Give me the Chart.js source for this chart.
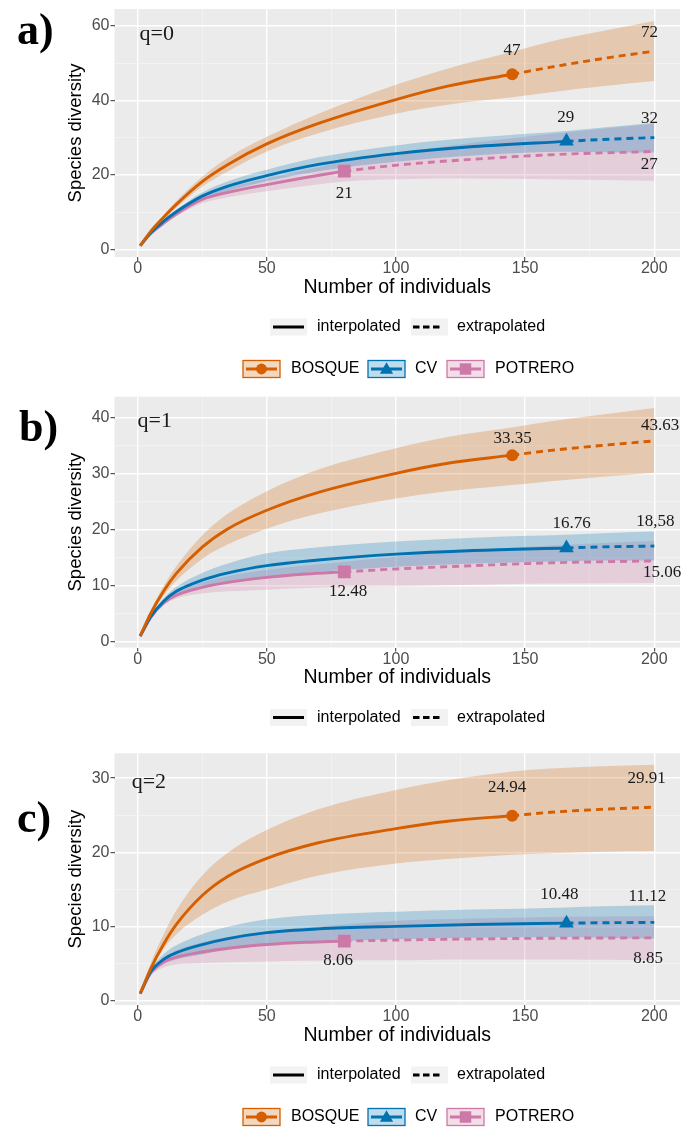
<!DOCTYPE html>
<html>
<head>
<meta charset="utf-8">
<script src="https://cdn.jsdelivr.net/npm/chart.js@4.4.1/dist/chart.umd.min.js"></script>
<style>
  html, body { margin: 0; padding: 0; background: #fff; overflow: hidden; }
  html { width: 683px; height: 1128px; }
  .panel { position: absolute; left: 0; width: 683px; overflow: hidden; }
  .panel canvas { display: block; }
</style>
</head>
<body>
<div class="panel" style="top:0px;height:385px"><canvas id="panelA" width="689" height="385"></canvas></div>
<div class="panel" style="top:385px;height:355px"><canvas id="panelB" width="689" height="355"></canvas></div>
<div class="panel" style="top:740px;height:388px"><canvas id="panelC" width="689" height="388"></canvas></div>
<script>
// sites and sample sizes
const sites = ['BOSQUE', 'CV', 'POTRERO'];
const observedN = [145, 166, 80];

// x grids (interpolated part ends at the observed sample size, then extrapolated to 200)
const bosqueX = [1, 5, 10, 15, 25, 35, 50, 70, 100, 120, 145, 160, 180, 200];
const cvX = [1, 5, 10, 15, 25, 35, 50, 70, 100, 130, 166, 180, 200];
const potreroX = [1, 5, 10, 15, 25, 35, 50, 65, 80, 100, 130, 160, 200];

const xTicks = [0, 25, 50, 75, 100, 125, 150, 175, 200];

// q = 0
const q0BosqueEst = [1, 4.8, 8.6, 12.1, 18.2, 22.8, 28.3, 33.8, 40.2, 43.8, 47, 48.9, 51.2, 53.2];
const q0BosqueLow = [1, 4.5, 8.0, 11.2, 16.9, 21.0, 26.3, 31.2, 36.4, 38.8, 40.8, 42.2, 43.8, 45.2];
const q0BosqueUp  = [1, 5.1, 9.2, 13.0, 19.5, 24.6, 30.2, 36.4, 44.2, 48.5, 53, 55.8, 58.6, 61.3];
const q0CvEst = [1, 4.4, 7.5, 10.1, 14.3, 17.0, 19.8, 22.8, 25.7, 27.6, 29, 29.5, 30.0];
const q0CvLow = [1, 4.2, 7.1, 9.5, 13.3, 15.7, 18.3, 21.0, 23.5, 25.2, 26.2, 26.1, 26.0];
const q0CvUp  = [1, 4.6, 7.9, 10.7, 15.3, 18.3, 21.4, 24.7, 27.9, 30.0, 31.8, 32.7, 34.0];
const q0PotEst = [1, 4.2, 7.0, 9.5, 13.4, 15.3, 17.4, 19.3, 21, 22.6, 24.2, 25.4, 26.3];
const q0PotLow = [1, 4.0, 6.6, 8.9, 12.4, 14.0, 15.6, 17.0, 18.2, 18.8, 19.0, 18.8, 18.4];
const q0PotUp  = [1, 4.4, 7.4, 10.1, 14.3, 16.5, 19.0, 21.3, 23.5, 25.8, 28.6, 31.0, 33.7];
const q0YTicks = [0, 10, 20, 30, 40, 50, 60];

// q = 1
const q1BosqueEst = [1, 5.0, 9.0, 12.2, 16.9, 20.2, 23.5, 26.7, 30.1, 31.9, 33.35, 34.2, 35.1, 35.9];
const q1BosqueLow = [1, 4.7, 8.2, 10.9, 14.8, 17.4, 20.2, 22.9, 25.6, 26.9, 28.0, 28.7, 29.5, 30.2];
const q1BosqueUp  = [1, 5.4, 9.9, 13.5, 19.0, 22.9, 26.9, 30.8, 34.6, 36.6, 38.3, 39.4, 40.6, 41.8];
const q1CvEst = [1, 4.4, 7.2, 9.0, 11.0, 12.3, 13.6, 14.6, 15.65, 16.3, 16.76, 16.95, 17.1];
const q1CvLow = [1, 4.2, 6.8, 8.3, 9.8, 10.7, 11.6, 12.5, 13.4, 14.0, 14.4, 14.5, 14.5];
const q1CvUp  = [1, 4.6, 7.7, 9.8, 12.3, 14.0, 15.8, 16.9, 17.9, 18.6, 19.1, 19.4, 19.7];
const q1PotEst = [1, 4.3, 6.9, 8.3, 9.7, 10.6, 11.5, 12.1, 12.48, 13.0, 13.6, 14.1, 14.45];
const q1PotLow = [1, 4.1, 6.5, 7.7, 8.6, 9.0, 9.3, 9.6, 9.8, 9.9, 10.2, 10.4, 10.5];
const q1PotUp  = [1, 4.5, 7.3, 8.9, 10.6, 11.7, 12.8, 13.6, 14.3, 15.2, 16.3, 17.2, 18.0];
const q1YTicks = [0, 5, 10, 15, 20, 25, 30, 35, 40];

// q = 2
const q2BosqueEst = [1, 4.3, 7.6, 10.3, 14.2, 16.8, 19.2, 21.3, 23.2, 24.2, 24.94, 25.4, 25.8, 26.1];
const q2BosqueLow = [1, 4.1, 7.0, 9.0, 11.6, 13.4, 15.0, 16.9, 18.5, 19.1, 19.7, 19.9, 20.1, 20.2];
const q2BosqueUp  = [1, 5.0, 8.9, 12.2, 16.9, 20.0, 23.0, 25.8, 28.4, 29.7, 30.9, 31.3, 31.6, 31.8];
const q2CvEst = [1, 3.9, 5.6, 6.5, 7.6, 8.4, 9.2, 9.7, 10.05, 10.3, 10.48, 10.53, 10.58];
const q2CvLow = [1, 3.6, 5.0, 5.6, 6.3, 6.9, 7.5, 7.9, 8.3, 8.5, 8.6, 8.5, 8.4];
const q2CvUp  = [1, 4.2, 6.3, 7.5, 9.0, 10.0, 11.0, 11.6, 12.0, 12.3, 12.6, 12.75, 12.9];
const q2PotEst = [1, 3.7, 5.2, 5.9, 6.6, 7.1, 7.6, 7.9, 8.06, 8.2, 8.35, 8.45, 8.5];
const q2PotLow = [1, 3.4, 4.5, 4.9, 5.1, 5.2, 5.3, 5.4, 5.5, 5.5, 5.6, 5.6, 5.5];
const q2PotUp  = [1, 4.0, 5.8, 6.8, 7.9, 8.6, 9.35, 9.9, 10.3, 10.8, 11.1, 11.3, 11.4];
const q2YTicks = [0, 5, 10, 15, 20, 25, 30];

// value labels written on the plots
const q0Notes = [
  { text: '47', x: 144.9, y: 53.3 }, { text: '72', x: 198.1, y: 58.1 },
  { text: '29', x: 165.7, y: 35.4 }, { text: '32', x: 198.1, y: 35.1 },
  { text: '27', x: 198, y: 22.8 }, { text: '21', x: 80, y: 15.1 }
];
const q1Notes = [
  { text: '33.35', x: 145.2, y: 36.4 }, { text: '43.63', x: 202.3, y: 38.7 },
  { text: '16.76', x: 168, y: 21.2 }, { text: '18,58', x: 200.4, y: 21.4 },
  { text: '15.06', x: 203, y: 12.3 }, { text: '12.48', x: 81.5, y: 8.9 }
];
const q2Notes = [
  { text: '24.94', x: 143, y: 28.7 }, { text: '29.91', x: 197, y: 30.0 },
  { text: '10.48', x: 163.3, y: 14.3 }, { text: '11.12', x: 197.3, y: 14.0 },
  { text: '8.85', x: 197.6, y: 5.65 }, { text: '8.06', x: 77.6, y: 5.5 }
];

const COLORS = ['#D55E00', '#0072B2', '#CC79A7'];
const FILLS = ['rgba(213,94,0,0.25)', 'rgba(0,114,178,0.25)', 'rgba(204,121,167,0.25)'];
const SHAPES = ['circle', 'triangle', 'rect'];
const SHAPE_R = [6, 8.5, 9];
const SANS = "'Liberation Sans', Arial, sans-serif";
const SERIF = "'Liberation Serif', 'Times New Roman', serif";

Chart.defaults.font.family = SANS;

const siteX = [bosqueX, cvX, potreroX];

function pts(xs, ys) {
  return xs.map((x, i) => ({ x: x, y: ys[i] }));
}

function buildDatasets(est, low, up) {
  const ds = [];
  for (let s = 0; s < 3; s++) {
    const xs = siteX[s];
    const n = xs.indexOf(observedN[s]) + 1;
    // confidence band
    ds.push({ data: pts(xs, up[s]), fill: '+1', backgroundColor: FILLS[s], borderColor: 'transparent',
      borderWidth: 0, pointRadius: 0, cubicInterpolationMode: 'monotone', order: 3 });
    ds.push({ data: pts(xs, low[s]), fill: false, borderColor: 'transparent',
      borderWidth: 0, pointRadius: 0, cubicInterpolationMode: 'monotone', order: 3 });
    // interpolated
    ds.push({ data: pts(xs.slice(0, n), est[s].slice(0, n)), fill: false, borderColor: COLORS[s],
      borderWidth: 2.9, pointRadius: 0, cubicInterpolationMode: 'monotone', order: 2 });
    // extrapolated
    ds.push({ data: pts(xs.slice(n - 1), est[s].slice(n - 1)), fill: false, borderColor: COLORS[s],
      borderWidth: 2.9, borderDash: [7, 5], pointRadius: 0, cubicInterpolationMode: 'monotone', order: 2 });
    // observed sample
    ds.push({ data: [{ x: observedN[s], y: est[s][n - 1] }], showLine: false, pointStyle: SHAPES[s],
      pointRadius: SHAPE_R[s], pointBackgroundColor: COLORS[s], pointBorderWidth: 0, order: 1 });
  }
  return ds;
}

function drawLegends(chart, showShapes) {
  const ctx = chart.ctx;
  const y1 = chart.chartArea.bottom + 70;
  ctx.save();
  ctx.fillStyle = '#F2F2F2';
  ctx.fillRect(270, y1 - 8.5, 37, 17);
  ctx.fillRect(411, y1 - 8.5, 37, 17);
  ctx.strokeStyle = '#000';
  ctx.lineWidth = 3;
  ctx.beginPath(); ctx.moveTo(273, y1); ctx.lineTo(304, y1); ctx.stroke();
  ctx.setLineDash([6.5, 3.5]);
  ctx.beginPath(); ctx.moveTo(413, y1); ctx.lineTo(443, y1); ctx.stroke();
  ctx.setLineDash([]);
  ctx.fillStyle = '#000';
  ctx.font = '16px ' + SANS;
  ctx.textBaseline = 'middle';
  ctx.textAlign = 'left';
  ctx.fillText('interpolated', 317, y1);
  ctx.fillText('extrapolated', 457, y1);

  if (showShapes) {
    const y2 = chart.chartArea.bottom + 112;
    const boxX = [243, 368, 447];
    const textX = [291, 415, 495];
    for (let s = 0; s < 3; s++) {
      ctx.fillStyle = '#FFFFFF';
      ctx.fillRect(boxX[s], y2 - 8.5, 37, 17);
      ctx.fillStyle = FILLS[s];
      ctx.fillRect(boxX[s], y2 - 8.5, 37, 17);
      ctx.strokeStyle = COLORS[s];
      ctx.lineWidth = 1.3;
      ctx.strokeRect(boxX[s], y2 - 8.5, 37, 17);
      ctx.lineWidth = 3;
      ctx.beginPath(); ctx.moveTo(boxX[s] + 3, y2); ctx.lineTo(boxX[s] + 34, y2); ctx.stroke();
      ctx.fillStyle = COLORS[s];
      Chart.helpers.drawPoint(ctx, { pointStyle: SHAPES[s], radius: SHAPE_R[s] * 0.9, borderWidth: 0, rotation: 0 },
        boxX[s] + 18.5, y2 + (s === 1 ? 1 : 0));
      ctx.fillStyle = '#000';
      ctx.fillText(sites[s], textX[s], y2);
    }
  }
  ctx.restore();
}

const decorPlugin = {
  id: 'decor',
  beforeDraw(chart) {
    const { ctx, chartArea: a } = chart;
    ctx.save();
    ctx.fillStyle = '#EBEBEB';
    ctx.fillRect(a.left, a.top, a.right - a.left, a.bottom - a.top);
    ctx.restore();
  },
  afterDraw(chart, args, o) {
    const { ctx, scales } = chart;
    ctx.save();
    ctx.fillStyle = '#1A1A1A';
    ctx.textBaseline = 'middle';
    ctx.textAlign = 'center';
    ctx.font = '17px ' + SERIF;
    o.notes.forEach(n => {
      ctx.fillText(n.text, scales.x.getPixelForValue(n.x), scales.y.getPixelForValue(n.y));
    });
    ctx.textAlign = 'left';
    ctx.font = '22px ' + SERIF;
    ctx.fillText(o.q.text, scales.x.getPixelForValue(o.q.x), scales.y.getPixelForValue(o.q.y));
    ctx.fillStyle = '#000';
    ctx.textBaseline = 'alphabetic';
    ctx.font = 'bold 44px ' + SERIF;
    ctx.fillText(o.letter, o.letterX, o.letterY);
    ctx.restore();
    drawLegends(chart, o.shapes);
  }
};

function makePanel(id, est, low, up, yMin, yMax, yTicks, yMajor, padTop, padBottom, decor) {
  const major = (v, step) => Math.abs(v % step) < 1e-9;
  new Chart(document.getElementById(id), {
    type: 'line',
    data: { datasets: buildDatasets(est, low, up) },
    options: {
      responsive: false,
      animation: false,
      layout: { padding: { top: padTop, bottom: padBottom, left: 0, right: 0 } },
      plugins: { legend: { display: false }, tooltip: { enabled: false }, decor: decor },
      scales: {
        x: {
          type: 'linear', min: -8.95, max: 209.95,
          afterBuildTicks: s => { s.ticks = xTicks.map(v => ({ value: v })); },
          afterFit: s => { s.height = 50; s.paddingLeft = 0; s.paddingRight = 0; },
          border: { display: false },
          grid: {
            color: c => major(c.tick.value, 50) ? '#FFFFFF' : '#F5F5F5',
            lineWidth: c => major(c.tick.value, 50) ? 1.4 : 0.7,
            tickColor: c => major(c.tick.value, 50) ? '#333333' : 'rgba(0,0,0,0)',
            tickLength: 4, tickWidth: 1
          },
          ticks: {
            callback: v => major(v, 50) ? v : '',
            autoSkip: false, maxRotation: 0, padding: -2,
            color: '#4D4D4D', font: { size: 16 }
          },
          title: { display: true, text: 'Number of individuals', color: '#000',
            font: { size: 19.5 }, padding: { top: 0, bottom: 7.8 } }
        },
        y: {
          type: 'linear', min: yMin, max: yMax,
          afterBuildTicks: s => { s.ticks = yTicks.map(v => ({ value: v })); },
          afterFit: s => { s.width = 114.5; s.paddingTop = 0; s.paddingBottom = 0; },
          border: { display: false },
          grid: {
            color: c => major(c.tick.value, yMajor) ? '#FFFFFF' : '#F5F5F5',
            lineWidth: c => major(c.tick.value, yMajor) ? 1.4 : 0.7,
            tickColor: c => major(c.tick.value, yMajor) ? '#333333' : 'rgba(0,0,0,0)',
            tickLength: 4, tickWidth: 1
          },
          ticks: {
            callback: v => major(v, yMajor) ? v : '',
            autoSkip: false, padding: 1,
            color: '#4D4D4D', font: { size: 16 }
          },
          title: { display: true, text: 'Species diversity', color: '#000',
            font: { size: 18.5 }, padding: { top: 64.4, bottom: 0 } }
        }
      }
    },
    plugins: [decorPlugin]
  });
}

makePanel('panelA',
  [q0BosqueEst, q0CvEst, q0PotEst], [q0BosqueLow, q0CvLow, q0PotLow], [q0BosqueUp, q0CvUp, q0PotUp],
  -2.03, 64.5, q0YTicks, 20, 8, 78,
  { notes: q0Notes, q: { text: 'q=0', x: 0.76, y: 57.7 }, letter: 'a)', letterX: 17, letterY: 44, shapes: true });

makePanel('panelB',
  [q1BosqueEst, q1CvEst, q1PotEst], [q1BosqueLow, q1CvLow, q1PotLow], [q1BosqueUp, q1CvUp, q1PotUp],
  -1.04, 43.8, q1YTicks, 10, 11.7, 42.5,
  { notes: q1Notes, q: { text: 'q=1', x: 0, y: 39.5 }, letter: 'b)', letterX: 19, letterY: 56, shapes: false });

makePanel('panelC',
  [q2BosqueEst, q2CvEst, q2PotEst], [q2BosqueLow, q2CvLow, q2PotLow], [q2BosqueUp, q2CvUp, q2PotUp],
  -0.54, 33.34, q2YTicks, 10, 13.3, 73,
  { notes: q2Notes, q: { text: 'q=2', x: -2.3, y: 29.4 }, letter: 'c)', letterX: 17, letterY: 92, shapes: true });
</script>
</body>
</html>
